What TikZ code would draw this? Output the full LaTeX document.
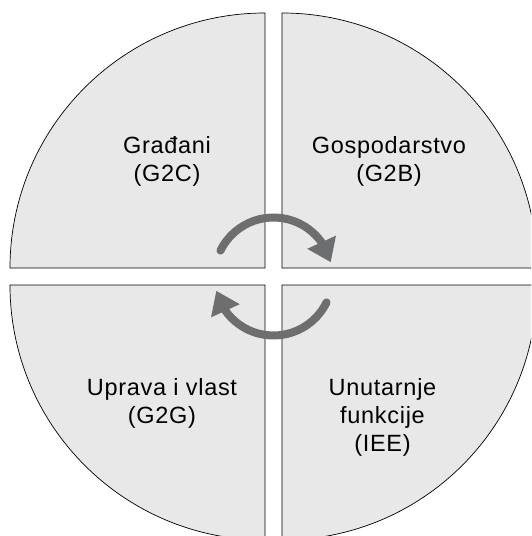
\documentclass[tikz,border=0pt]{standalone}
\usepackage{fontspec}
\setmainfont[LetterSpace=3]{Liberation Sans}
\usetikzlibrary{arrows.meta,bending}
\definecolor{quadfill}{HTML}{E8E8E8}
\definecolor{cyclegray}{HTML}{6D6E70}

\begin{document}
\begin{tikzpicture}[
        x=1pt, y=1pt,
        % Style for the four quarter discs
        quad/.style={draw=black, line width=0.7pt, fill=quadfill},
        % Style for the text in each quarter
        sectortext/.style={align=center, font=\fontsize{23.5}{28}\selectfont},
        % Style for the two curved arrows in the middle
        cyclearrow/.style={draw=cyclegray, line width=8pt, line cap=round, -{Triangle[length=22pt, width=30pt]}}
    ]

        % 0. Picture frame
        \useasboundingbox (-273.5,-259.5) rectangle (257.5,276.5);
        \clip (-273.5,-259.5) rectangle (257.5,276.5);
        \coordinate (hub) at (0,0);

        % 1. The four quarters, split by a white cross
        \draw[quad] (-8.5,8.5) -- (-263.5,8.5) arc[start angle=180, end angle=90, radius=255] -- cycle;
        \draw[quad] (8.5,8.5) -- (8.5,263.5) arc[start angle=90, end angle=0, radius=255] -- cycle;
        \draw[quad] (-8.5,-8.5) -- (-8.5,-263.5) arc[start angle=270, end angle=180, radius=255] -- cycle;
        \draw[quad] (8.5,-8.5) -- (263.5,-8.5) arc[start angle=0, end angle=-90, radius=255] -- cycle;

        % 2. Names of the quarters
        \node[sectortext] (g2c) at (-106.5,115) {Građani\\(G2C)};
        \node[sectortext] (g2b) at (115.5,115) {Gospodarstvo\\(G2B)};
        \node[sectortext] (g2g) at (-111.5,-127) {Uprava i vlast\\(G2G)};
        \node[sectortext] (iee) at (109,-141) {Unutarnje\\funkcije\\(IEE)};

        % 3. Cycle arrows round the hub
        \draw[cyclearrow] (hub) ++(154:59) arc[start angle=154, end angle=14, radius=59];
        \draw[cyclearrow] (hub) ++(334:59) arc[start angle=334, end angle=194, radius=59];

    \end{tikzpicture}
\end{document}
